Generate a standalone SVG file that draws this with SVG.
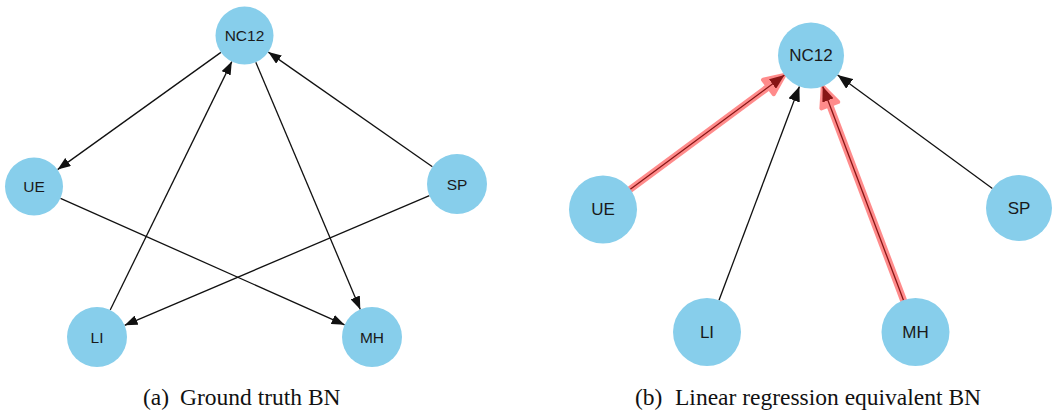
<svg xmlns="http://www.w3.org/2000/svg" width="1054" height="412" viewBox="0 0 1054 412">
<style>
.node circle{fill:#87CEEB;}
.node text{font-family:"Liberation Sans",Arial,sans-serif;fill:#1a1a1a;text-anchor:middle;dominant-baseline:central;}
.l text{font-size:15.5px;}
.r text{font-size:17px;}
.edge{stroke:#111;stroke-width:1.3;fill:none;}
.ea{marker-end:url(#ah);}
.eb{marker-end:url(#ahb);}
.hl{stroke:#ff1a1a;stroke-width:7;stroke-linecap:round;fill:none;marker-end:url(#ahr);}
.cap{font-family:"Liberation Serif","Times New Roman",serif;font-size:23.5px;fill:#111;}
</style>
<defs>
<marker id="ah" markerUnits="userSpaceOnUse" viewBox="0 0 13 10" markerWidth="13" markerHeight="10" refX="13" refY="5" orient="auto"><path d="M0,0 L13,5 L0,10 z" fill="#111"/></marker>
<marker id="ahb" markerUnits="userSpaceOnUse" viewBox="0 0 15 12" markerWidth="15" markerHeight="12" refX="15" refY="6" orient="auto"><path d="M0,0 L15,6 L0,12 z" fill="#111"/></marker>
<marker id="ahr" markerUnits="userSpaceOnUse" viewBox="0 0 20 18" markerWidth="20" markerHeight="18" refX="4" refY="9" orient="auto" overflow="visible"><path d="M0,0 L20,9 L0,18 z" fill="#ff1a1a" stroke="#ff1a1a" stroke-width="4" stroke-linejoin="round"/></marker>
</defs>
<rect width="1054" height="412" fill="#fff"/>
<g id="connectors">
<line class="edge ea" x1="220.9" y1="52.4" x2="57.6" y2="169.6"/>
<line class="edge ea" x1="255.8" y1="62.2" x2="360.3" y2="309.4"/>
<line class="edge ea" x1="432.4" y1="166.8" x2="268.3" y2="52.1"/>
<line class="edge ea" x1="110.2" y1="310.0" x2="231.8" y2="61.6"/>
<line class="edge ea" x1="60.5" y1="198.3" x2="344.6" y2="324.8"/>
<line class="edge ea" x1="429.4" y1="195.7" x2="124.6" y2="325.3"/>
<line class="edge eb" x1="630.3" y1="189.3" x2="784.5" y2="75.1"/>
<line class="edge eb" x1="719" y1="300.2" x2="799.4" y2="86.4"/>
<line class="edge eb" x1="903.5" y1="300.2" x2="822.7" y2="86.4"/>
<line class="edge eb" x1="992.4" y1="188.5" x2="837.6" y2="75"/>
<g opacity="0.5"><line class="hl" x1="630.3" y1="189.3" x2="771.6" y2="84.6"/></g>
<g opacity="0.5"><line class="hl" x1="903.5" y1="300.2" x2="828.4" y2="101.4"/></g>
</g>
<g id="a-NC12" class="node l"><circle cx="244.5" cy="35.5" r="29"/><text x="244.5" y="35.5">NC12</text></g>
<g id="a-UE" class="node l"><circle cx="34" cy="186.5" r="29"/><text x="34" y="186.5">UE</text></g>
<g id="a-SP" class="node l"><circle cx="457" cy="184" r="30"/><text x="457" y="184">SP</text></g>
<g id="a-LI" class="node l"><circle cx="97" cy="337" r="30"/><text x="97" y="337">LI</text></g>
<g id="a-MH" class="node l"><circle cx="372" cy="337" r="30"/><text x="372" y="337">MH</text></g>
<g id="b-NC12" class="node r"><circle cx="811" cy="55.5" r="33"/><text x="811" y="55.5">NC12</text></g>
<g id="b-UE" class="node r"><circle cx="603" cy="209.5" r="34"/><text x="603" y="209.5">UE</text></g>
<g id="b-SP" class="node r"><circle cx="1019" cy="208" r="33"/><text x="1019" y="208">SP</text></g>
<g id="b-LI" class="node r"><circle cx="707" cy="332" r="34"/><text x="707" y="332">LI</text></g>
<g id="b-MH" class="node r"><circle cx="915.5" cy="332" r="34"/><text x="915.5" y="332">MH</text></g>
<g id="captions">
<text class="cap" x="143" y="405">(a)</text><text class="cap" x="180" y="405">Ground truth BN</text>
<text class="cap" x="635" y="405">(b)</text><text class="cap" x="675" y="405">Linear regression equivalent BN</text>
</g>
</svg>
